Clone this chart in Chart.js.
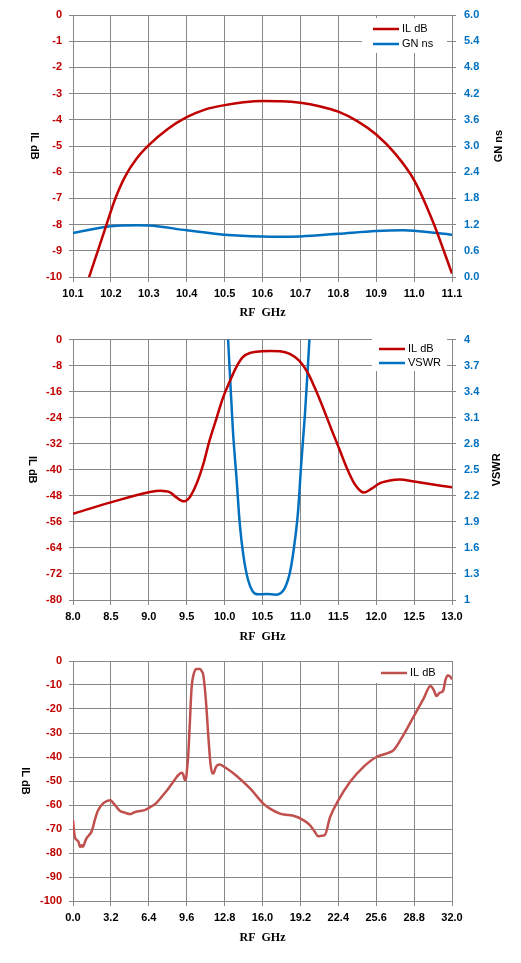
<!DOCTYPE html>
<html>
<head>
<meta charset="utf-8">
<script src="https://cdn.jsdelivr.net/npm/chart.js@4.4.1/dist/chart.umd.min.js"></script>
<style>
  html, body { margin: 0; padding: 0; background: #fff; }
  .box { position: absolute; left: 0; width: 521px; }
</style>
</head>
<body>
<div class="box" style="top:0;height:325px"><canvas id="chart1"></canvas></div>
<div class="box" style="top:325px;height:320px"><canvas id="chart2"></canvas></div>
<div class="box" style="top:645px;height:318px"><canvas id="chart3"></canvas></div>
<script>
'use strict';

// chart 1 - passband IL and group delay
const il1Freq = [10.10, 10.144, 10.166, 10.188, 10.21, 10.237, 10.268, 10.30, 10.35, 10.40, 10.45, 10.50, 10.55, 10.60, 10.65, 10.70, 10.75, 10.80, 10.85, 10.90, 10.95, 11.00, 11.05, 11.10];
const il1Values = [-12.0, -9.94, -8.98, -8.02, -7.07, -6.18, -5.48, -4.97, -4.35, -3.9, -3.6, -3.44, -3.33, -3.28, -3.29, -3.35, -3.48, -3.69, -4.05, -4.56, -5.29, -6.3, -7.9, -9.87];
const gn1Freq = [10.10, 10.20, 10.27, 10.30, 10.40, 10.50, 10.60, 10.65, 10.70, 10.80, 10.90, 10.97, 11.00, 11.10];
const gn1Values = [1.01, 1.16, 1.185, 1.18, 1.07, 0.97, 0.925, 0.92, 0.93, 0.99, 1.055, 1.07, 1.06, 0.97];
const freq1Ticks = [10.1, 10.2, 10.3, 10.4, 10.5, 10.6, 10.7, 10.8, 10.9, 11.0, 11.1];
const il1Ticks = [0, -1, -2, -3, -4, -5, -6, -7, -8, -9, -10];
const gn1Ticks = [0, 0.6, 1.2, 1.8, 2.4, 3.0, 3.6, 4.2, 4.8, 5.4, 6.0];

// chart 2 - IL and VSWR 8-13 GHz
const il2Freq = [8.0, 8.5, 9.0, 9.15, 9.28, 9.36, 9.46, 9.54, 9.63, 9.72, 9.80, 9.89, 9.98, 10.07, 10.16, 10.24, 10.35, 10.49, 10.60, 10.73, 10.86, 10.99, 11.10, 11.19, 11.30, 11.41, 11.52, 11.61, 11.72, 11.84, 11.94, 12.05, 12.18, 12.31, 12.5, 13.0];
const il2Values = [-53.5, -50.0, -46.9, -46.4, -46.9, -48.4, -49.7, -48.4, -44.3, -38.2, -31.1, -24.4, -17.8, -12.7, -8.2, -5.4, -4.0, -3.6, -3.5, -3.6, -4.4, -6.6, -10.3, -14.8, -21.0, -27.6, -34.0, -39.3, -44.5, -47.0, -45.8, -44.1, -43.3, -43.0, -43.6, -45.4];
const vswrFreq = [10.02, 10.045, 10.07, 10.11, 10.16, 10.20, 10.25, 10.31, 10.37, 10.44, 10.55, 10.68, 10.79, 10.86, 10.91, 10.97, 11.01, 11.06, 11.10, 11.12, 11.14];
const vswrValues = [4.5, 4.02, 3.60, 2.95, 2.37, 1.88, 1.50, 1.23, 1.10, 1.065, 1.07, 1.06, 1.13, 1.31, 1.57, 2.03, 2.56, 3.14, 3.71, 4.02, 4.4];
const freq2Ticks = [8.0, 8.5, 9.0, 9.5, 10.0, 10.5, 11.0, 11.5, 12.0, 12.5, 13.0];
const il2Ticks = [0, -8, -16, -24, -32, -40, -48, -56, -64, -72, -80];
const vswrTicks = [1, 1.3, 1.6, 1.9, 2.2, 2.5, 2.8, 3.1, 3.4, 3.7, 4];

// chart 3 - wideband IL 0-32 GHz
const il3Freq = [0.00, 0.14, 0.30, 0.45, 0.62, 0.75, 0.85, 1.00, 1.13, 1.35, 1.55, 1.70, 1.84, 2.12, 2.54, 2.90, 3.15, 3.40, 3.70, 3.95, 4.40, 4.80, 5.20, 5.64, 6.10, 6.49, 7.05, 7.50, 7.90, 8.30, 8.60, 8.90, 9.17, 9.30, 9.45, 9.53, 9.62, 9.73, 9.87, 10.01, 10.21, 10.44, 10.72, 10.90, 11.00, 11.23, 11.42, 11.62, 11.78, 11.90, 12.07, 12.35, 12.98, 13.82, 14.95, 16.07, 16.63, 17.48, 17.80, 18.61, 19.45, 20.00, 20.40, 20.70, 21.00, 21.25, 21.71, 22.41, 23.40, 24.53, 25.66, 26.50, 27.07, 27.64, 28.76, 29.61, 30.18, 30.46, 30.69, 30.97, 31.25, 31.45, 31.64, 31.81, 32.00];
const il3Values = [-66.3, -73.0, -74.5, -75.2, -77.5, -76.8, -77.4, -75.5, -74.0, -72.6, -71.2, -69.0, -66.3, -62.2, -59.3, -58.3, -58.0, -59.2, -61.0, -62.4, -63.2, -63.8, -63.0, -62.5, -62.0, -61.0, -59.1, -56.5, -54.2, -51.5, -49.4, -47.5, -46.6, -47.2, -49.6, -49.6, -45.5, -39.2, -25.3, -11.4, -5.1, -3.3, -3.3, -4.5, -5.8, -17.0, -30.9, -43.4, -46.9, -46.5, -44.1, -43.1, -44.8, -47.9, -53.1, -59.4, -61.5, -63.6, -64.0, -64.5, -66.3, -68.4, -71.0, -73.0, -72.8, -72.6, -65.0, -58.0, -50.3, -44.1, -39.9, -38.5, -37.1, -33.0, -23.2, -15.6, -10.4, -12.1, -14.6, -13.2, -12.4, -7.9, -6.0, -6.3, -7.6];
const freq3Ticks = [0, 3.2, 6.4, 9.6, 12.8, 16.0, 19.2, 22.4, 25.6, 28.8, 32.0];
const il3Ticks = [0, -10, -20, -30, -40, -50, -60, -70, -80, -90, -100];

const RED = '#C00000';
const RED3 = '#C0504D';
const BLUE = '#0070C0';
const GRID = '#888888';
const SANS = "'Liberation Sans', Arial, sans-serif";

const pts = (xs, ys) => xs.map((x, i) => ({ x: x, y: ys[i] }));
const fixTicks = arr => scale => { scale.ticks = arr.map(v => ({ value: v })); };

function drawVertical(ctx, text, x, y, angle) {
    ctx.save();
    ctx.translate(x, y);
    ctx.rotate(angle);
    ctx.font = 'bold 11px ' + SANS;
    ctx.fillStyle = '#000';
    ctx.textAlign = 'center';
    ctx.textBaseline = 'middle';
    ctx.fillText(text, 0, 0);
    ctx.restore();
}

// legend inside the plot and the two vertical axis titles
const extrasPlugin = {
    id: 'extras',
    afterDraw(chart, args, opts) {
        const ctx = chart.ctx;
        const a = chart.chartArea;
        const midY = (a.top + a.bottom) / 2;
        if (opts.legend) {
            const L = opts.legend;
            ctx.save();
            ctx.fillStyle = '#fff';
            ctx.fillRect(L.x, L.y, L.w, L.h);
            ctx.font = '11px ' + SANS;
            ctx.textBaseline = 'middle';
            ctx.textAlign = 'left';
            chart.data.datasets.forEach((ds, i) => {
                const y = L.rows[i];
                ctx.strokeStyle = ds.borderColor;
                ctx.lineWidth = 2.5;
                ctx.beginPath();
                ctx.moveTo(L.lx, y);
                ctx.lineTo(L.lx + 26, y);
                ctx.stroke();
                ctx.fillStyle = '#000';
                ctx.fillText(ds.label, L.lx + 29, y);
            });
            ctx.restore();
        }
        if (opts.leftTitle) drawVertical(ctx, opts.leftTitle.text, opts.leftTitle.x, midY, Math.PI / 2);
        if (opts.rightTitle) drawVertical(ctx, opts.rightTitle.text, opts.rightTitle.x, midY, -Math.PI / 2);
    }
};

function xAxis(min, max, ticks, height, titlePad) {
    return {
        type: 'linear', min: min, max: max,
        afterBuildTicks: fixTicks(ticks),
        afterFit: s => { s.height = height; },
        ticks: { color: '#000', font: { family: SANS, size: 11, weight: 'bold' }, padding: 5, maxRotation: 0, callback: v => v.toFixed(1) },
        grid: { color: GRID, tickLength: 5 },
        border: { color: GRID },
        title: { display: true, text: 'RF  GHz', color: '#000', font: { family: "'Liberation Serif', serif", size: 12, weight: 'bold' }, padding: { top: 0, bottom: titlePad } }
    };
}

function yLeft(min, max, ticks) {
    return {
        type: 'linear', position: 'left', min: min, max: max,
        afterBuildTicks: fixTicks(ticks),
        afterFit: s => { s.width = 73; },
        ticks: { color: RED, font: { family: SANS, size: 11, weight: 'bold' }, padding: 7 },
        grid: { color: GRID, tickLength: 4 },
        border: { color: GRID }
    };
}

function yRight(min, max, ticks, fmt) {
    return {
        type: 'linear', position: 'right', min: min, max: max,
        afterBuildTicks: fixTicks(ticks),
        afterFit: s => { s.width = 69; },
        ticks: { color: BLUE, font: { family: SANS, size: 11, weight: 'bold' }, padding: 8, callback: fmt },
        grid: { color: GRID, tickLength: 4, drawOnChartArea: false },
        border: { color: GRID }
    };
}

function line(label, data, color, axis) {
    return {
        label: label, data: data, yAxisID: axis,
        borderColor: color, backgroundColor: color, borderWidth: 2.5,
        pointRadius: 0, cubicInterpolationMode: 'monotone', fill: false
    };
}

const baseOpts = {
    responsive: true, maintainAspectRatio: false, animation: false,
    events: []
};

new Chart(document.getElementById('chart1'), {
    type: 'line',
    data: { datasets: [
        line('IL dB', pts(il1Freq, il1Values), RED, 'y'),
        line('GN ns', pts(gn1Freq, gn1Values), BLUE, 'y1')
    ] },
    options: Object.assign({}, baseOpts, {
        layout: { padding: { top: 15, left: 0, right: 0, bottom: 0 } },
        scales: {
            x: xAxis(10.1, 11.1, freq1Ticks, 48, 5),
            y: yLeft(-10, 0, il1Ticks),
            y1: yRight(0, 6, gn1Ticks, v => v.toFixed(1))
        },
        plugins: {
            legend: { display: false }, tooltip: { enabled: false },
            extras: {
                legend: { x: 362, y: 18, w: 85, h: 35, lx: 373, rows: [29, 44] },
                leftTitle: { x: 34, text: 'IL dB' },
                rightTitle: { x: 499, text: 'GN ns' }
            }
        }
    }),
    plugins: [extrasPlugin]
});

new Chart(document.getElementById('chart2'), {
    type: 'line',
    data: { datasets: [
        line('IL dB', pts(il2Freq, il2Values), RED, 'y'),
        line('VSWR', pts(vswrFreq, vswrValues), BLUE, 'y1')
    ] },
    options: Object.assign({}, baseOpts, {
        layout: { padding: { top: 13, left: 0, right: 0, bottom: 0 } },
        scales: {
            x: xAxis(8, 13, freq2Ticks, 45, 1),
            y: yLeft(-80, 0, il2Ticks),
            y1: yRight(1, 4, vswrTicks, v => (v === 1 || v === 4) ? String(v) : v.toFixed(1))
        },
        plugins: {
            legend: { display: false }, tooltip: { enabled: false },
            extras: {
                legend: { x: 372, y: 14, w: 75, h: 32, lx: 379, rows: [24, 38] },
                leftTitle: { x: 32, text: 'IL dB' },
                rightTitle: { x: 497, text: 'VSWR' }
            }
        }
    }),
    plugins: [extrasPlugin]
});

new Chart(document.getElementById('chart3'), {
    type: 'line',
    data: { datasets: [
        line('IL dB', pts(il3Freq, il3Values), RED3, 'y')
    ] },
    options: Object.assign({}, baseOpts, {
        layout: { padding: { top: 16, left: 0, right: 69, bottom: 0 } },
        scales: {
            x: xAxis(0, 32, freq3Ticks, 62, 18),
            y: yLeft(-100, 0, il3Ticks)
        },
        plugins: {
            legend: { display: false }, tooltip: { enabled: false },
            extras: {
                legend: { x: 376, y: 17, w: 67, h: 21, lx: 381, rows: [28] },
                leftTitle: { x: 25, text: 'IL dB' }
            }
        }
    }),
    plugins: [extrasPlugin]
});
</script>
</body>
</html>
